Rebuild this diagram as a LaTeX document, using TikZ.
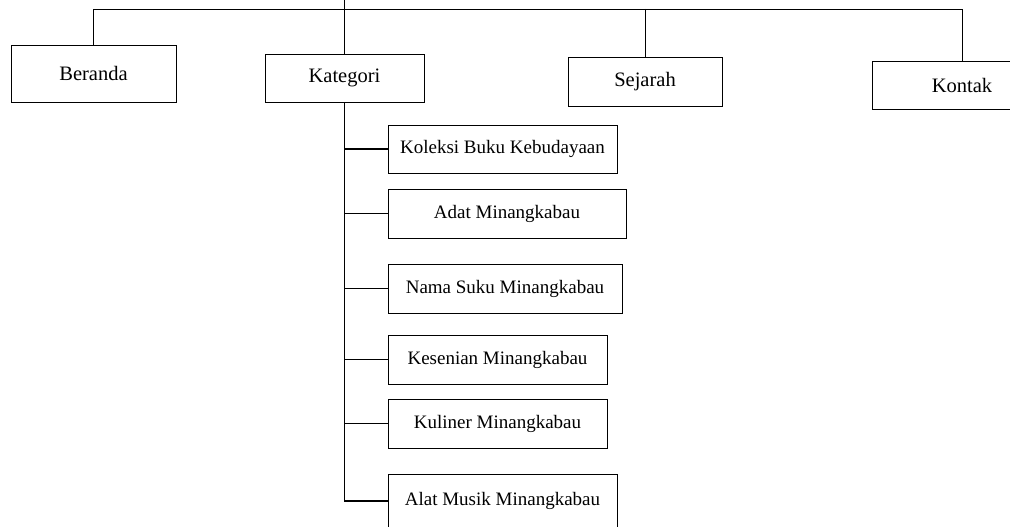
\documentclass[tikz,border=0pt]{standalone}
\usepackage{fontspec}
\setmainfont{Liberation Serif}
\begin{document}
\begin{tikzpicture}[x=1pt,y=-1pt,
  line width=0.8pt,
  mainbox/.style={draw, inner sep=0pt, minimum width=#1, font=\fontsize{20.5}{24}\selectfont},
  subbox/.style={draw, inner sep=0pt, minimum width=#1, font=\fontsize{19}{22}\selectfont},
  spine/.style={line width=1.2pt}]
\useasboundingbox (0,0) rectangle (1010,527);
\clip (0,0) rectangle (1010,527);
\node[mainbox=165pt, minimum height=57pt] (ber) at (93.5,73.5) {Beranda};
\node[mainbox=159pt, minimum height=48pt] (kat) at (344.5,78) {Kategori};
\node[mainbox=154pt, minimum height=49pt] (sej) at (645,81.5) {Sejarah};
\node[mainbox=180pt, minimum height=48pt] (kon) at (962,85) {Kontak};
\node[subbox=229pt, minimum height=48pt] (s1) at (502.5,149) {Koleksi Buku Kebudayaan};
\node[subbox=238pt, minimum height=49pt] (s2) at (507,213.5) {Adat Minangkabau};
\node[subbox=234pt, minimum height=49pt] (s3) at (505,288.5) {Nama Suku Minangkabau};
\node[subbox=219pt, minimum height=49pt] (s4) at (497.5,359.5) {Kesenian Minangkabau};
\node[subbox=219pt, minimum height=49pt] (s5) at (497.5,423.5) {Kuliner Minangkabau};
\node[subbox=229pt, minimum height=54pt] (s6) at (502.5,501) {Alat Musik Minangkabau};
\coordinate (barL) at (93.5,9);
\coordinate (topc) at (344.5,0);
\draw (ber.north) -- (ber.north |- barL) -- (kon.north |- barL) -- (kon.north);
\draw (sej.north |- barL) -- (sej.north);
\draw (topc) -- (kat.north);
\draw[spine] (kat.south) |- (s6.west);
\foreach \s in {s1,s2,s3,s4,s5} {\draw[spine] (kat.south |- \s.west) -- (\s.west);}
\end{tikzpicture}
\end{document}
